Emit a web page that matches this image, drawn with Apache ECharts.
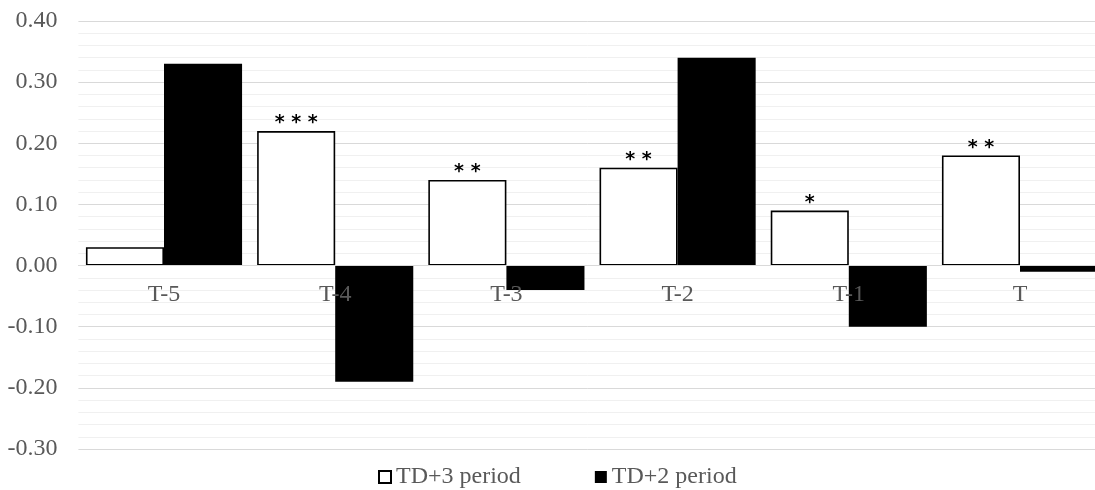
<!DOCTYPE html>
<html>
<head>
<meta charset="utf-8">
<script src="https://cdn.jsdelivr.net/npm/echarts@6/dist/echarts.min.js"></script>
<style>
  html, body { margin: 0; padding: 0; background: #ffffff; }
  #chart { width: 1095px; height: 490px; }
</style>
</head>
<body>
<div id="chart"></div>
<script>
// Event windows on the category axis
const categories = ['T-5', 'T-4', 'T-3', 'T-2', 'T-1', 'T'];
// Mean values for each period
const td3Values = [0.03, 0.22, 0.14, 0.16, 0.09, 0.18];
const td2Values = [0.33, -0.19, -0.04, 0.34, -0.10, -0.01];
// Significance markers shown above the TD+3 bars
const td3Stars = ['', '***', '**', '**', '*', '**'];
// Value axis tick labels
const yTicks = ['-0.30', '-0.20', '-0.10', '0.00', '0.10', '0.20', '0.30', '0.40'];

const FONT = '"Liberation Serif", "Times New Roman", serif';
const Y_MIN = -0.3, Y_MAX = 0.4;
const GRID_TOP = 21, GRID_BOTTOM_PX = 449;
// pixel distance from the bottom of the plot to the zero line
const zeroOffset = (GRID_BOTTOM_PX - GRID_TOP) * (0 - Y_MIN) / (Y_MAX - Y_MIN);

const chart = echarts.init(document.getElementById('chart'), null, { renderer: 'canvas' });

chart.setOption({
  animation: false,
  backgroundColor: '#ffffff',
  grid: {
    left: 78.4, width: 1027.2, top: GRID_TOP, height: GRID_BOTTOM_PX - GRID_TOP,
    containLabel: false, outerBoundsMode: 'none'
  },
  legend: {
    top: 465,
    left: 378,
    itemWidth: 12,
    itemHeight: 12,
    itemGap: 74,
    icon: 'rect',
    padding: 0,
    textStyle: { fontFamily: FONT, fontSize: 24, color: '#595959' },
    data: ['TD+3 period', 'TD+2 period']
  },
  xAxis: {
    type: 'category',
    data: categories,
    position: 'bottom',
    offset: -zeroOffset,
    z: 10,
    axisLine: { show: true, onZero: false, lineStyle: { color: '#d9d9d9', width: 1 } },
    axisTick: { show: false },
    axisLabel: { fontFamily: FONT, fontSize: 24, color: '#595959', margin: 17 },
    splitLine: { show: false }
  },
  yAxis: {
    type: 'value',
    min: Y_MIN,
    max: Y_MAX,
    interval: 0.1,
    axisLine: { show: false },
    axisTick: { show: false },
    axisLabel: {
      fontFamily: FONT, fontSize: 24, color: '#595959', margin: 21,
      formatter: function (v) {
        const i = Math.round((v - Y_MIN) * 10);
        return yTicks[i] !== undefined ? yTicks[i] : '';
      }
    },
    splitLine: { show: true, lineStyle: { color: '#d9d9d9', width: 1 } },
    minorTick: { show: false, splitNumber: 5 },
    minorSplitLine: { show: true, lineStyle: { color: '#f0f0f0', width: 1 } }
  },
  series: [
    {
      name: 'TD+3 period',
      type: 'bar',
      data: td3Values,
      barGap: '0%',
      barCategoryGap: '8.8%',
      itemStyle: { color: '#ffffff', borderColor: '#000000', borderWidth: 1.6 },
      label: {
        show: true,
        position: 'top',
        distance: -2,
        fontFamily: '"DejaVu Sans", sans-serif',
        fontWeight: 'bold',
        fontSize: 19,
        color: '#000000',
        // spread the asterisks apart a little
        formatter: function (p) { return td3Stars[p.dataIndex].split('').join(' '); }
      },
      z: 3
    },
    {
      name: 'TD+2 period',
      type: 'bar',
      data: td2Values,
      barGap: '0%',
      barCategoryGap: '8.8%',
      itemStyle: { color: '#000000', borderColor: '#000000', borderWidth: 0 },
      z: 3
    }
  ]
});
</script>
</body>
</html>
